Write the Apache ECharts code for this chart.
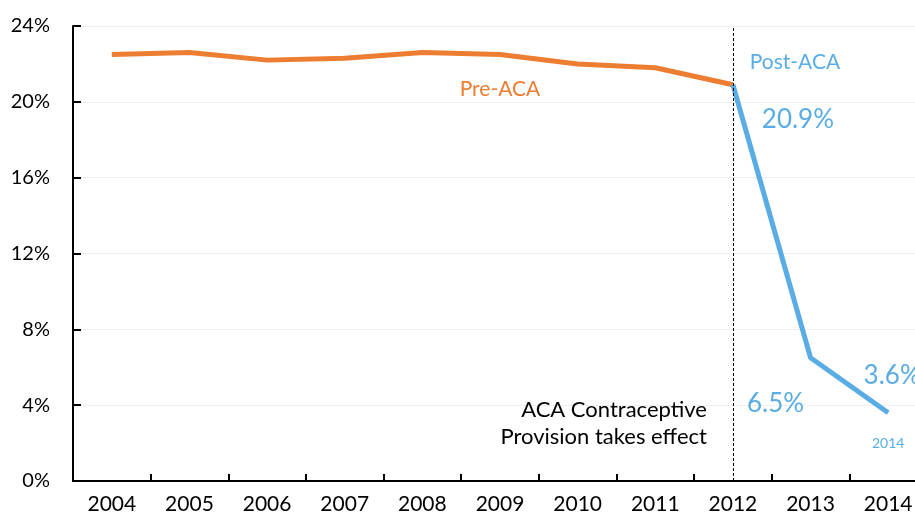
<!DOCTYPE html>
<html>
<head>
<meta charset="utf-8">
<script src="https://cdn.jsdelivr.net/npm/echarts@6/dist/echarts.min.js"></script>
<style>
  html, body { margin: 0; padding: 0; background: #fff; }
  #chart { width: 915px; height: 517px; }
</style>
</head>
<body>
<div id="chart"></div>
<script>
// Years on the category axis
const years = ['2004', '2005', '2006', '2007', '2008', '2009', '2010', '2011', '2012', '2013', '2014'];
// Share (%) before the contraceptive provision, 2004–2012
const preACA = [22.5, 22.6, 22.2, 22.3, 22.6, 22.5, 22.0, 21.8, 20.9, null, null];
// Share (%) after the provision, 2012–2014
const postACA = [null, null, null, null, null, null, null, null, 20.9, 6.5, 3.6];
// Y-axis ticks
const yTicks = [0, 4, 8, 12, 16, 20, 24];

const FONT = 'Lato, "Open Sans", sans-serif';
const ORANGE = '#ED7D31';
const BLUE = '#5AADE4';

const chart = echarts.init(document.getElementById('chart'), null, { renderer: 'canvas' });

function valueLabel(offset) {
  return {
    show: true,
    formatter: p => p.value + '%',
    position: 'inside',
    offset: offset,
    color: BLUE,
    fontSize: 26,
    fontFamily: FONT
  };
}

const postData = postACA.map((v, i) => {
  if (v === null) return null;
  if (years[i] === '2012') return { value: v, label: valueLabel([65, 35]) };
  if (years[i] === '2013') return { value: v, label: valueLabel([-35, 46]) };
  if (years[i] === '2014') return { value: v, label: valueLabel([4, -37]) };
  return v;
});

// Invisible anchor symbol carrying a text label
const textMark = (coord, text, style) => ({
  coord: coord,
  symbol: 'circle',
  symbolSize: 1,
  itemStyle: { color: 'rgba(0,0,0,0)' },
  label: Object.assign({ show: true, formatter: text, position: 'inside', fontFamily: FONT }, style)
});

chart.setOption({
  animation: false,
  grid: { left: 73, right: -12, top: 26, bottom: 36, containLabel: false, outerBoundsMode: 'none' },
  xAxis: {
    type: 'category',
    data: years,
    boundaryGap: true,
    axisLine: { lineStyle: { color: '#000', width: 2 } },
    axisTick: { show: true, inside: true, length: 7, lineStyle: { color: '#000', width: 2 } },
    axisLabel: { color: '#000', fontSize: 21, fontFamily: FONT, margin: 13 },
    splitLine: { show: false }
  },
  yAxis: {
    type: 'value',
    min: yTicks[0],
    max: yTicks[yTicks.length - 1],
    interval: 4,
    axisLine: { show: true, lineStyle: { color: '#000', width: 2 } },
    axisTick: { show: true, inside: true, length: 8, lineStyle: { color: '#000', width: 2 } },
    axisLabel: { color: '#000', fontSize: 20, fontFamily: FONT, margin: 23, formatter: v => v + '%' },
    splitLine: { show: true, lineStyle: { color: '#efefef', width: 1 } }
  },
  series: [
    {
      name: 'Pre-ACA',
      type: 'line',
      data: preACA,
      symbol: 'none',
      lineStyle: { color: ORANGE, width: 5 },
      itemStyle: { color: ORANGE },
      z: 3,
      markPoint: {
        silent: true,
        data: [
          textMark(['2009', 20.68], 'Pre-ACA', { color: ORANGE, fontSize: 21 })
        ]
      }
    },
    {
      name: 'Post-ACA',
      type: 'line',
      data: postData,
      symbol: 'circle',
      symbolSize: 0,
      showSymbol: true,
      lineStyle: { color: BLUE, width: 5 },
      itemStyle: { color: BLUE },
      z: 4,
      markPoint: {
        silent: true,
        data: [
          textMark(['2012', 22.1], 'Post-ACA', { color: BLUE, fontSize: 21, offset: [62, 0] }),
          textMark(['2014', 2.0], '2014', { color: BLUE, fontSize: 14, offset: [0, 0] }),
          textMark(['2012', 3.03], 'ACA Contraceptive\nProvision takes effect',
            { color: '#000', fontSize: 22, align: 'right', lineHeight: 27, offset: [-26, 0] })
        ]
      },
      markLine: {
        silent: true,
        symbol: 'none',
        label: { show: false },
        lineStyle: { color: '#000', type: [3, 2], width: 1 },
        data: [{ xAxis: '2012' }]
      }
    }
  ]
});
</script>
</body>
</html>
